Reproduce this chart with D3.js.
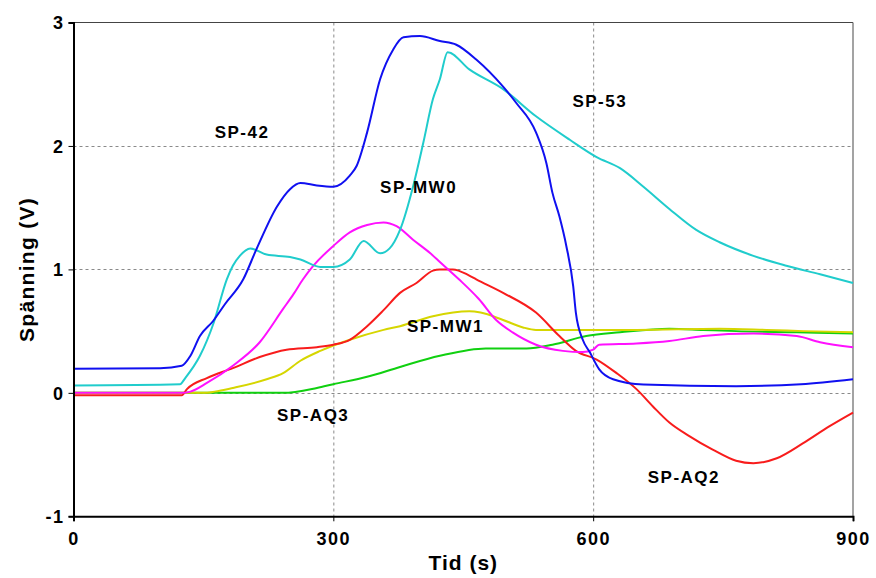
<!DOCTYPE html>
<html><head><meta charset="utf-8">
<script src="https://cdn.jsdelivr.net/npm/d3@7"></script>
<style>body{margin:0;background:#fff}svg{display:block}</style>
</head><body>
<svg id="c" width="876" height="578"></svg>
<script>
const xTicks = [0, 300, 600, 900];
const yTicks = [-1, 0, 1, 2, 3];
const xTitle = "Tid (s)";
const yTitle = "Spänning (V)";

const sp42T = [0,100,125,135,146,161,175,196,211,235,250,262,281,300,319,327,339,354,369,381,400,423,442,465,496,511,534,546,553,561,569,577,580,588,596,607,623,658,765,840,900];
const sp42V = [0.195,0.2,0.22,0.3,0.46,0.58,0.72,0.92,1.16,1.51,1.65,1.70,1.68,1.67,1.76,1.84,2.11,2.54,2.78,2.88,2.89,2.85,2.82,2.70,2.48,2.35,2.11,1.86,1.62,1.43,1.19,0.86,0.65,0.43,0.33,0.19,0.11,0.067,0.054,0.07,0.11];

const sp53T = [0,123,129,146,162,177,184,192,204,223,250,262,285,300,319,335,354,365,377,392,404,415,423,432,457,496,534,573,604,631,658,688,719,746,785,823,862,900];
const sp53V = [0.06,0.07,0.12,0.30,0.57,0.92,1.03,1.11,1.17,1.12,1.10,1.08,1.02,1.02,1.08,1.23,1.13,1.17,1.32,1.67,2.03,2.38,2.54,2.76,2.62,2.46,2.24,2.05,1.91,1.82,1.67,1.49,1.32,1.22,1.11,1.03,0.96,0.89];

const mw0T = [0,125,135,154,184,215,242,254,265,277,300,319,339,358,373,392,412,423,445,468,488,507,534,565,588,600,607,650,688,727,785,835,862,900];
const mw0V = [0,0,0.01,0.08,0.22,0.41,0.68,0.80,0.92,1.03,1.19,1.30,1.36,1.38,1.35,1.24,1.13,1.06,0.92,0.76,0.59,0.49,0.39,0.34,0.33,0.35,0.39,0.40,0.42,0.46,0.48,0.46,0.41,0.37];

const aq2T = [0,125,131,154,184,215,246,281,300,319,339,358,377,396,415,423,438,457,465,496,534,561,580,604,627,650,669,688,711,738,765,785,812,842,873,900];
const aq2V = [-0.02,-0.02,0.03,0.12,0.20,0.29,0.35,0.37,0.39,0.43,0.54,0.67,0.81,0.89,0.99,1.0,1.0,0.95,0.92,0.81,0.65,0.46,0.34,0.27,0.16,0.03,-0.11,-0.24,-0.35,-0.46,-0.55,-0.57,-0.53,-0.41,-0.27,-0.16];

const mw1T = [0,150,163,184,223,242,262,285,319,358,377,415,457,470,496,519,534,592,650,746,800,843,900];
const mw1V = [0,0,0.01,0.04,0.11,0.16,0.26,0.34,0.43,0.51,0.54,0.62,0.66,0.65,0.59,0.53,0.51,0.51,0.51,0.52,0.51,0.50,0.49];

const aq3T = [0,242,281,300,339,377,423,476,523,553,592,631,688,727,765,835,900];
const aq3V = [0,0,0.04,0.07,0.13,0.21,0.30,0.36,0.36,0.39,0.46,0.49,0.52,0.51,0.50,0.49,0.48];

const seriesNames = ["SP-AQ3","SP-MW1","SP-AQ2","SP-MW0","SP-53","SP-42"];
const seriesColors = ["#10d010","#d6d600","#f81c1c","#ff10ff","#20cccc","#1010f0"];
const seriesT = [aq3T, mw1T, aq2T, mw0T, sp53T, sp42T];
const seriesV = [aq3V, mw1V, aq2V, mw0V, sp53V, sp42V];

const labelNames = ["SP-42","SP-MW0","SP-53","SP-MW1","SP-AQ3","SP-AQ2"];
const labelT = [163, 354, 576, 385, 235, 663];
const labelV = [2.11, 1.67, 2.36, 0.54, -0.18, -0.68];

const svg = d3.select("#c");
const m = {l:73.5, r:853, t:22.5, b:516.3};
const x = d3.scaleLinear().domain([0,900]).range([m.l, m.r]);
const y = d3.scaleLinear().domain([-1,3]).range([m.b, m.t]);

const font = "Arial, 'Liberation Sans', sans-serif";

// grid
const g = svg.append("g");
g.selectAll(".gx").data(xTicks.filter(d=>d>0&&d<900)).enter().append("line")
  .attr("x1",d=>x(d)+0.5).attr("x2",d=>x(d)+0.5).attr("y1",m.t).attr("y2",m.b)
  .attr("stroke","#8a8a8a").attr("stroke-width",1).attr("stroke-dasharray","3,3");
g.selectAll(".gy").data(yTicks.filter(d=>d>-1&&d<3)).enter().append("line")
  .attr("y1",d=>Math.round(y(d))+0.5).attr("y2",d=>Math.round(y(d))+0.5).attr("x1",m.l).attr("x2",m.r)
  .attr("stroke","#8a8a8a").attr("stroke-width",1).attr("stroke-dasharray","3,3");

// frame top/right
svg.append("line").attr("x1",m.l).attr("x2",m.r).attr("y1",m.t).attr("y2",m.t).attr("stroke","#444").attr("stroke-width",1.2);
svg.append("line").attr("x1",m.r).attr("x2",m.r).attr("y1",m.t).attr("y2",m.b).attr("stroke","#666").attr("stroke-width",1.2);

// lines
const line = d3.line().x(d=>x(d[0])).y(d=>y(d[1])).curve(d3.curveMonotoneX);
seriesNames.forEach((n,i)=>{
  const data = seriesT[i].map((t,j)=>[t, seriesV[i][j]]);
  svg.append("path").datum(data).attr("d",line).attr("fill","none")
    .attr("stroke",seriesColors[i]).attr("stroke-width",2).attr("stroke-linejoin","round");
});

// axes
const xAxis = d3.axisBottom(x).tickValues(xTicks).tickSize(5).tickFormat(d=>String(d));
const yAxis = d3.axisLeft(y).tickValues(yTicks).tickSize(5).tickFormat(d=>String(d));
const gx = svg.append("g").attr("transform",`translate(0,${m.b})`).call(xAxis);
const gy = svg.append("g").attr("transform",`translate(${m.l},0)`).call(yAxis);
[gx, gy].forEach(a=>{
  a.select(".domain").attr("stroke","#000").attr("stroke-width",2);
  a.selectAll(".tick line").attr("stroke","#000").attr("stroke-width",1);
  a.selectAll(".tick text").attr("fill","#000").style("font-family",font)
    .style("font-weight","bold").style("font-size","18px").style("letter-spacing","1.5px");
});
gx.selectAll(".tick text").attr("dy","1.15em");
gy.selectAll(".tick text").attr("x",-9).attr("dy","0.35em");

// titles
svg.append("text").attr("x",x(450)).attr("y",570).attr("text-anchor","middle")
  .style("font-family",font).style("font-weight","bold").style("font-size","21px").style("letter-spacing","1px")
  .text(xTitle);
svg.append("text").attr("transform",`translate(34,${y(1)}) rotate(-90)`).attr("text-anchor","middle")
  .style("font-family",font).style("font-weight","bold").style("font-size","21px").style("letter-spacing","1.3px")
  .text(yTitle);

// labels
labelNames.forEach((n,i)=>{
  svg.append("text").attr("x",x(labelT[i])).attr("y",y(labelV[i])).attr("dy","0.35em")
    .style("font-family",font).style("font-weight","bold").style("font-size","17px").style("letter-spacing","1.5px")
    .text(n);
});
</script>
</body></html>
